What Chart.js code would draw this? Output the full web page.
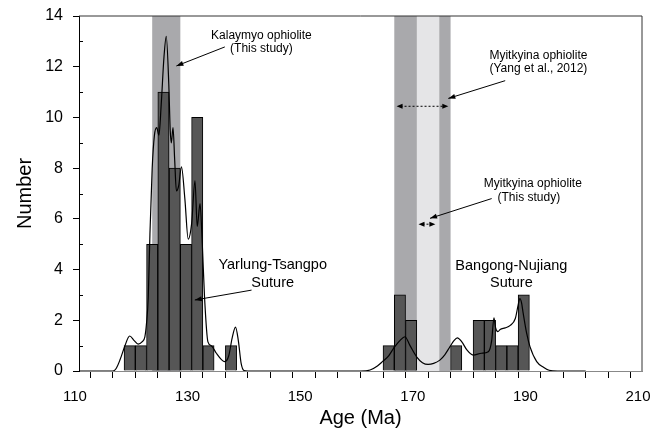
<!DOCTYPE html>
<html><head><meta charset="utf-8">
<script src="https://cdn.jsdelivr.net/npm/chart.js@4"></script>
<style>html,body{margin:0;padding:0;background:#fff}#wrap{width:652px;height:430px}</style>
</head><body><div id="wrap"><canvas id="c" width="652" height="430"></canvas></div>
<script>
// Histogram bins (Ma) and counts
const binStarts = [118,120,122,124,126,128,130,132,136,164,166,168,176,180,182,184,186,188];
const binCounts = [1,1,5,11,8,5,10,1,1,1,3,2,1,2,2,1,1,3];
const binWidth = 2;
// Probability density curve
const kdeAge = [110,116,116.6,117.3,118.1,119.0,119.8,120.5,121.2,121.7,122.0,122.3,122.6,123.0,123.4,123.8,124.2,124.6,125.1,125.5,125.95,126.2,126.4,126.7,127.0,127.3,127.7,128.2,128.8,129.4,130.0,130.6,131.0,131.5,131.9,132.3,132.9,133.5,134.4,135.3,135.9,136.6,137.2,137.8,138.3,138.8,139.3,140,160,161.7,163.0,163.9,165.0,165.9,167.0,167.9,168.8,170,171,172,173,174.1,175,175.9,176.6,177.2,178,178.9,180,181.5,182.7,183.3,183.7,184.0,184.4,184.8,185.7,186.6,187.5,188.0,188.3,188.6,188.9,189.5,190.1,191.3,192.5,193.5,195,200];
const kdeValue = [0,0,0.1,0.45,0.96,1.38,1.2,1.06,1.15,1.35,1.9,2.9,5.4,8.0,9.3,9.6,9.3,10.5,12.4,13.2,11.3,9.5,9.0,9.6,8.3,7.1,7.3,8.05,6.8,5.2,5.8,7.5,5.7,6.6,5.0,2.9,1.15,1.0,0.7,0.45,0.37,0.6,1.3,1.73,1.2,0.3,0.02,0,0,0.04,0.2,0.37,0.6,0.9,1.2,1.35,1.0,0.55,0.33,0.26,0.3,0.43,0.65,0.96,1.2,1.31,1.15,0.83,0.63,0.7,0.76,1.2,2.1,1.7,1.55,1.64,1.7,1.8,2.07,2.6,2.86,2.7,2.27,1.5,0.96,0.37,0.15,0.03,0,0];
// Shaded age ranges (Ma)
const bandFrom = [123,166,170];
const bandTo = [128,176,174];
const bandColor = ['#a9a9ac','#a9a9ac','#e5e5e7'];
// Axis ranges
const xMin = 110, xMax = 210, xStep = 4, xLabelStep = 20;
const yMin = 0, yMax = 14, yStep = 2;

const FONT = 'Liberation Sans, Arial, sans-serif';

const bandsPlugin = {
  id: 'bands',
  beforeDatasetsDraw(chart) {
    const {ctx, chartArea: a, scales: {x}} = chart;
    ctx.save();
    for (let i = 0; i < bandFrom.length; i++) {
      const x1 = x.getPixelForValue(bandFrom[i]);
      const x2 = x.getPixelForValue(bandTo[i]);
      ctx.fillStyle = bandColor[i];
      ctx.fillRect(x1, a.top, x2 - x1, a.bottom - a.top);
    }
    ctx.restore();
  }
};

function arrowHead(ctx, x1, y1, x2, y2, len, hw) {
  const ang = Math.atan2(y2 - y1, x2 - x1);
  ctx.beginPath();
  ctx.moveTo(x2, y2);
  ctx.lineTo(x2 - len * Math.cos(ang) + hw * Math.sin(ang), y2 - len * Math.sin(ang) - hw * Math.cos(ang));
  ctx.lineTo(x2 - len * Math.cos(ang) - hw * Math.sin(ang), y2 - len * Math.sin(ang) + hw * Math.cos(ang));
  ctx.closePath();
  ctx.fill();
}

const framePlugin = {
  id: 'frame',
  afterDraw(chart) {
    const {ctx, chartArea: a, scales: {y}} = chart;
    ctx.save();
    ctx.strokeStyle = '#333';
    ctx.lineWidth = 1;
    ctx.beginPath();
    ctx.moveTo(a.left, a.top);
    ctx.lineTo(a.right, a.top);
    ctx.lineTo(a.right, a.bottom);
    ctx.stroke();
    // inward minor ticks on y axis
    ctx.strokeStyle = '#000';
    ctx.beginPath();
    for (let v = yMin + 1; v < yMax; v += yStep) {
      const py = Math.round(y.getPixelForValue(v)) + 0.5;
      ctx.moveTo(a.left, py);
      ctx.lineTo(a.left + 4, py);
    }
    ctx.stroke();
    ctx.restore();
  }
};

const annotPlugin = {
  id: 'annot',
  afterDatasetsDraw(chart) {
    const {ctx, scales: {x, y}} = chart;
    const X = v => x.getPixelForValue(v), Y = v => y.getPixelForValue(v);
    ctx.save();
    ctx.fillStyle = '#000';
    ctx.strokeStyle = '#000';
    ctx.textAlign = 'center';
    ctx.textBaseline = 'middle';
    // small labels
    ctx.font = '12px ' + FONT;
    ctx.fillText('Kalaymyo ophiolite', X(142.4), Y(13.24));
    ctx.fillText('(This study)', X(142.4), Y(12.7));
    ctx.fillText('Myitkyina ophiolite', X(191.6), Y(12.45));
    ctx.fillText('(Yang et al., 2012)', X(191.6), Y(11.92));
    ctx.fillText('Myitkyina ophiolite', X(190.6), Y(7.37));
    ctx.fillText('(This study)', X(189.9), Y(6.84));
    // suture labels
    ctx.font = '14.5px ' + FONT;
    ctx.fillText('Yarlung-Tsangpo', X(144.4), Y(4.18));
    ctx.fillText('Suture', X(144.4), Y(3.47));
    ctx.fillText('Bangong-Nujiang', X(186.8), Y(4.14));
    ctx.fillText('Suture', X(186.8), Y(3.47));
    // arrows
    ctx.lineWidth = 1;
    const arrows = [[135.9,12.78,127.3,12.03],[140.65,3.19,130.57,2.80],[185.7,11.45,175.6,10.75],[183.3,6.80,172.35,6.02]];
    for (const [a1,b1,a2,b2] of arrows) {
      const x1 = X(a1), y1 = Y(b1), x2 = X(a2), y2 = Y(b2);
      ctx.beginPath(); ctx.moveTo(x1, y1); ctx.lineTo(x2, y2); ctx.stroke();
      arrowHead(ctx, x1, y1, x2, y2, 7, 2.5);
    }
    // dashed double arrows
    const dbl = [[166.4,175.6,10.44],[170.3,173.3,5.79]];
    for (const [a1,a2,b] of dbl) {
      const x1 = X(a1), x2 = X(a2), yy = Y(b);
      ctx.setLineDash([2,2]);
      ctx.beginPath(); ctx.moveTo(x1 + 4, yy); ctx.lineTo(x2 - 4, yy); ctx.stroke();
      ctx.setLineDash([]);
      arrowHead(ctx, x2 - 5, yy, x2, yy, 6, 2.5);
      arrowHead(ctx, x1 + 5, yy, x1, yy, 6, 2.5);
    }
    ctx.restore();
  }
};

new Chart(document.getElementById('c'), {
  type: 'bar',
  data: {
    datasets: [
      {
        type: 'line',
        data: kdeAge.map((a, i) => ({x: a, y: kdeValue[i]})),
        borderColor: '#000', borderWidth: 1.2, pointRadius: 0,
        cubicInterpolationMode: 'monotone', fill: false, order: 0
      },
      {
        type: 'bar',
        data: binStarts.map((s, i) => ({x: s + binWidth / 2, y: binCounts[i]})),
        backgroundColor: '#565656', borderColor: '#000', borderWidth: 1,
        barPercentage: 1, categoryPercentage: 1, order: 1
      }
    ]
  },
  options: {
    responsive: false, animation: false, devicePixelRatio: 1,
    layout: {padding: {top: 16, right: 10, left: 0, bottom: 0}},
    plugins: {legend: {display: false}, tooltip: {enabled: false}},
    scales: {
      x: {
        type: 'linear', min: xMin, max: xMax, offset: false,
        ticks: {
          stepSize: xStep, autoSkip: false, maxRotation: 0, color: '#000', padding: 10, labelOffset: -4,
          font: {family: FONT, size: 15},
          callback: v => ((v - xMin) % xLabelStep === 0 ? String(v) : '')
        },
        grid: {drawOnChartArea: false, tickLength: 7, color: '#000'},
        border: {color: '#888', width: 1},
        title: {display: true, text: 'Age (Ma)', color: '#000', font: {family: FONT, size: 20}, padding: {top: 0, bottom: 0}},
        afterFit: s => { s.height = 59; s.paddingLeft = 0; s.paddingRight = 0; }
      },
      y: {
        min: yMin, max: yMax,
        ticks: {stepSize: yStep, color: '#000', padding: 10, font: {family: FONT, size: 16}},
        grid: {drawOnChartArea: false, tickLength: 6, color: '#000'},
        border: {color: '#000', width: 1},
        title: {display: true, text: 'Number', color: '#000', font: {family: FONT, size: 20}, padding: {top: 13, bottom: 0}},
        afterFit: s => { s.width = 79; s.paddingTop = 0; s.paddingBottom = 0; }
      }
    }
  },
  plugins: [bandsPlugin, framePlugin, annotPlugin]
});
</script></body></html>
